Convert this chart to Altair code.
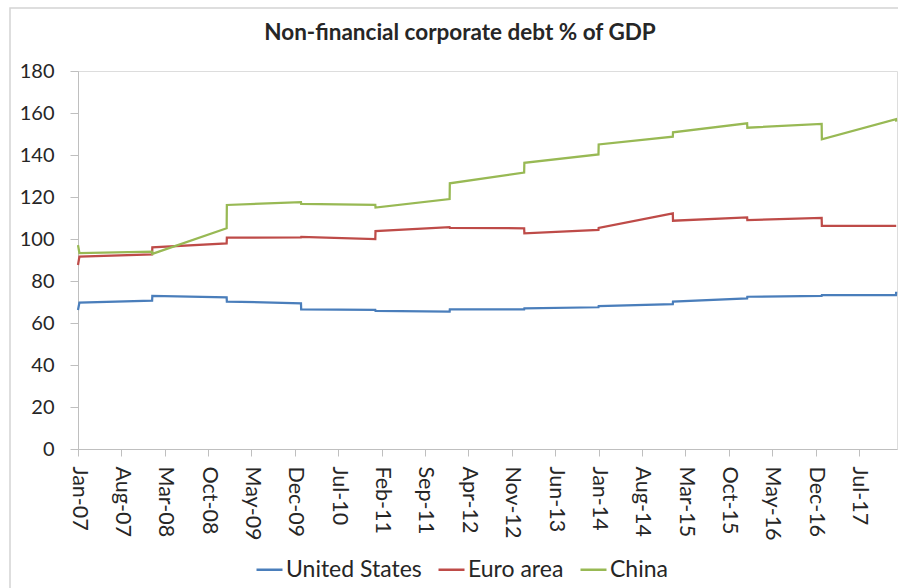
import altair as alt
import pandas as pd

# ---- data ----
DATES = ["2007-01-01", "2007-01-08", "2007-12-31", "2008-01-01", "2008-12-31",
         "2009-01-01", "2009-12-31", "2010-01-01", "2010-12-31", "2011-01-01",
         "2011-12-31", "2012-01-01", "2012-12-31", "2013-01-01", "2013-12-31",
         "2014-01-01", "2014-12-31", "2015-01-01", "2015-12-31", "2016-01-01",
         "2016-12-31", "2017-01-01", "2017-12-31", "2018-01-01"]

US = [66.2, 69.7, 70.6, 72.9, 72.2, 70.2, 69.4, 66.5, 66.2, 65.8, 65.4, 66.5,
      66.5, 67.0, 67.5, 68.0, 69.0, 70.2, 71.7, 72.5, 72.9, 73.3, 73.3, 74.9]
EURO = [87.6, 91.6, 92.7, 96.0, 97.9, 100.6, 100.8, 101.0, 100.0, 103.8, 105.6, 105.3,
        105.1, 102.7, 104.3, 105.3, 112.2, 108.7, 110.3, 109.0, 110.0, 106.2, 106.2, 106.2]
CHINA = [97.1, 93.3, 94.0, 92.9, 105.1, 116.2, 117.5, 116.7, 116.2, 115.0, 119.0, 126.5,
         131.6, 136.3, 140.3, 145.0, 148.7, 150.8, 155.1, 153.0, 154.8, 147.5, 157.1, 155.9]

SERIES = ["United States", "Euro area", "China"]
COLORS = ["#4a7ebb", "#be4b48", "#98b954"]
TITLE = "Non-financial corporate debt % of GDP"

# x-axis tick labels every 7 months (year, month)
TICKS = [(2007, 1), (2007, 8), (2008, 3), (2008, 10), (2009, 5), (2009, 12),
         (2010, 7), (2011, 2), (2011, 9), (2012, 4), (2012, 11), (2013, 6),
         (2014, 1), (2014, 8), (2015, 3), (2015, 10), (2016, 5), (2016, 12),
         (2017, 7)]

Y_TICKS = [0, 20, 40, 60, 80, 100, 120, 140, 160, 180]

rows = []
for name, vals in zip(SERIES, [US, EURO, CHINA]):
    for d, v in zip(DATES, vals):
        rows.append({"date": d, "value": v, "series": name})
df = pd.DataFrame(rows)

FONT = "Lato"
TEXT = "#262626"
AXIS = "#bfbfbf"

lines = alt.Chart(df).mark_line(strokeWidth=2.25).encode(
    x=alt.X("date:T",
            scale=alt.Scale(type="utc",
                            domain=[alt.DateTime(year=2007, month=1, date=1, utc=True),
                                    alt.DateTime(year=2018, month=1, date=5, utc=True)]),
            axis=alt.Axis(title=None,
                          values=[alt.DateTime(year=y, month=m, date=1, utc=True) for y, m in TICKS],
                          format="%b-%y", labelAngle=90, labelFontSize=21.5,
                          labelFont=FONT, labelColor=TEXT, tickSize=7,
                          labelPadding=10, domainColor=AXIS, tickColor=AXIS,
                          grid=False, labelOverlap=False, labelFlush=False)),
    y=alt.Y("value:Q",
            scale=alt.Scale(domain=[0, 180], nice=False, zero=True),
            axis=alt.Axis(title=None, values=Y_TICKS, labelFontSize=20,
                          labelFont=FONT, labelColor=TEXT, tickSize=8,
                          labelPadding=16, domainColor=AXIS, tickColor=AXIS,
                          grid=False)),
    color=alt.Color("series:N",
                    scale=alt.Scale(domain=SERIES, range=COLORS),
                    sort=SERIES,
                    legend=alt.Legend(title=None, orient="none", direction="horizontal",
                                      legendX=177, legendY=484, padding=0,
                                      symbolType="stroke", symbolSize=676,
                                      symbolStrokeWidth=2.5, labelFontSize=23,
                                      labelFont=FONT, labelColor=TEXT,
                                      labelOffset=2, columnPadding=11)),
    order=alt.Order("date:T"),
)

frame = alt.Chart(pd.DataFrame({"k": [0]})).mark_rect(
    fill=None, stroke="#d4d4d4", strokeWidth=1.5
).encode(
    x=alt.value(-68), x2=alt.value(900), y=alt.value(-63), y2=alt.value(600)
)

title = alt.Chart(pd.DataFrame({"t": [TITLE]})).mark_text(
    font=FONT, fontSize=22.5, fontWeight="bold", color=TEXT,
    align="center", baseline="middle"
).encode(
    text="t:N", x=alt.value(382), y=alt.value(-38)
)

chart = alt.layer(frame, lines, title).properties(
    width=819, height=378,
    autosize=alt.AutoSizeParams(type="none"),
    padding={"left": 78, "top": 71, "right": 1, "bottom": 139},
).configure_view(stroke=None).configure(background="white")

chart.save("out.html", embed_options={"renderer": "svg", "actions": False})
